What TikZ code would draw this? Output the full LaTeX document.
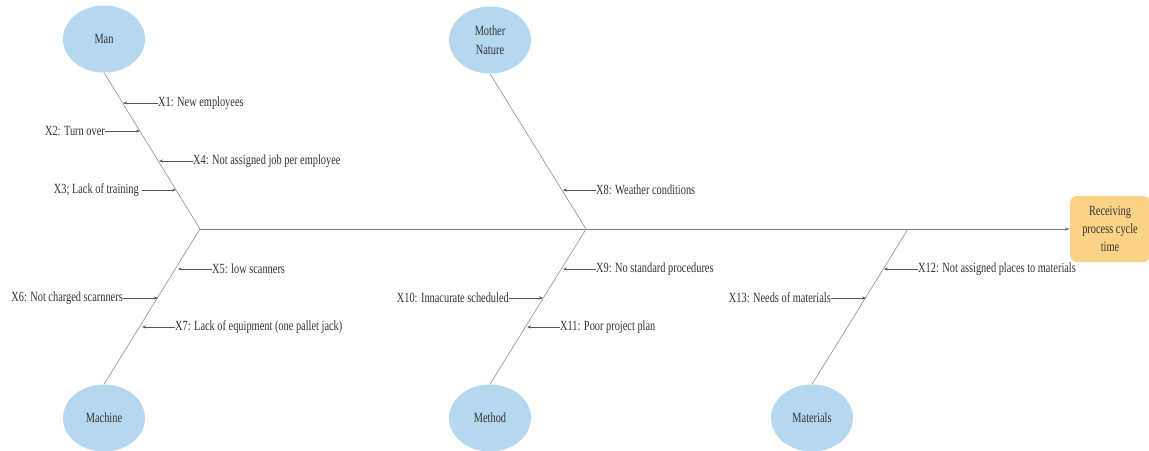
\documentclass[tikz,border=0pt]{standalone}
\usepackage{fontspec}
\setmainfont{Liberation Serif}[FakeStretch=0.74]
\usetikzlibrary{shapes.geometric,arrows.meta}
\definecolor{causefill}{HTML}{B5D7EF}
\definecolor{effectfill}{HTML}{FAD386}
\definecolor{bonegray}{HTML}{999999}
\definecolor{arrowgray}{HTML}{555555}
\definecolor{textgray}{HTML}{333333}
\tikzset{
  cause/.style={ellipse, fill=causefill, draw=none, minimum width=82pt, minimum height=67pt,
    inner sep=0pt, align=center, text=textgray, font=\fontsize{14}{19}\selectfont},
  effect/.style={rectangle, rounded corners=7pt, fill=effectfill, draw=none,
    minimum width=80pt, minimum height=66pt, inner sep=0pt, align=center, text=textgray,
    font=\fontsize{14}{18}\selectfont},
  bone/.style={draw=bonegray, line width=0.7pt},
  spine/.style={draw=arrowgray!80, line width=0.9pt, -{Stealth[length=5pt,width=3.5pt]}},
  sub/.style={draw=arrowgray, line width=0.6pt, -{Stealth[length=4pt,width=3pt]}},
  lbl/.style={inner sep=0pt, text=textgray, font=\fontsize{14}{16}\selectfont},
}
\begin{document}
\begin{tikzpicture}[x=1pt, y=-1pt]
\useasboundingbox (0,0) rectangle (1149,450);

% categories
\node[cause] (man)     at (104,39)  {Man};
\node[cause] (nature)  at (490,40)  {Mother\\Nature};
\node[cause] (machine) at (104,418) {Machine};
\node[cause] (method)  at (490,418) {Method};
\node[cause] (mat)     at (812,418) {Materials};

% effect
\node[effect] (eff) at (1110,229) {Receiving\\process cycle\\time};

% junctions on the spine
\coordinate (j1) at (200,229);
\coordinate (j2) at (586,229);
\coordinate (j3) at (908,229);

% spine and bones
\draw[spine] (j1) -- (eff.west);
\draw[bone] (man.south) -- (j1);
\draw[bone] (machine.north) -- (j1);
\draw[bone] (nature.south) -- (j2);
\draw[bone] (method.north) -- (j2);
\draw[bone] (mat.north) -- (j3);

% tips on the bones
\coordinate (t1)  at (123,103);
\coordinate (t2)  at (140,131);
\coordinate (t4)  at (159,161);
\coordinate (t3)  at (176,190);
\coordinate (t5)  at (178,269);
\coordinate (t6)  at (158,298);
\coordinate (t7)  at (142,327);
\coordinate (t8)  at (563,190);
\coordinate (t9)  at (563,269);
\coordinate (t10) at (543,298);
\coordinate (t11) at (527,327);
\coordinate (t12) at (884,269);
\coordinate (t13) at (866,298);

% sub-cause labels
\node[lbl, anchor=west] (x1)  at (158,103) {X1: New employees};
\node[lbl, anchor=east] (x2)  at (105,131) {X2: Turn over};
\node[lbl, anchor=west] (x4)  at (193,161) {X4: Not assigned job per employee};
\node[lbl, anchor=east] (x3)  at (139,190) {X3; Lack of training};
\node[lbl, anchor=west] (x5)  at (212,269) {X5: low scanners};
\node[lbl, anchor=east] (x6)  at (123,298) {X6: Not charged scarnners};
\node[lbl, anchor=west] (x7)  at (175,327) {X7: Lack of equipment (one pallet jack)};
\node[lbl, anchor=west] (x8)  at (596,190) {X8: Weather conditions};
\node[lbl, anchor=west] (x9)  at (596,269) {X9: No standard procedures};
\node[lbl, anchor=east] (x10) at (509,298) {X10: Innacurate scheduled};
\node[lbl, anchor=west] (x11) at (560,327) {X11: Poor project plan};
\node[lbl, anchor=west] (x12) at (918,269) {X12: Not assigned places to materials};
\node[lbl, anchor=east] (x13) at (831,298) {X13: Needs of materials};

% sub-cause arrows
\draw[sub] (x1.west) -- (t1);
\draw[sub] (x2.east) -- (t2);
\draw[sub] (x4.west) -- (t4);
\draw[sub] ([xshift=3pt]x3.east) -- (t3);
\draw[sub] (x5.west) -- (t5);
\draw[sub] (x6.east) -- (t6);
\draw[sub] (x7.west) -- (t7);
\draw[sub] (x8.west) -- (t8);
\draw[sub] (x9.west) -- (t9);
\draw[sub] (x10.east) -- (t10);
\draw[sub] (x11.west) -- (t11);
\draw[sub] (x12.west) -- (t12);
\draw[sub] (x13.east) -- (t13);
\end{tikzpicture}
\end{document}
